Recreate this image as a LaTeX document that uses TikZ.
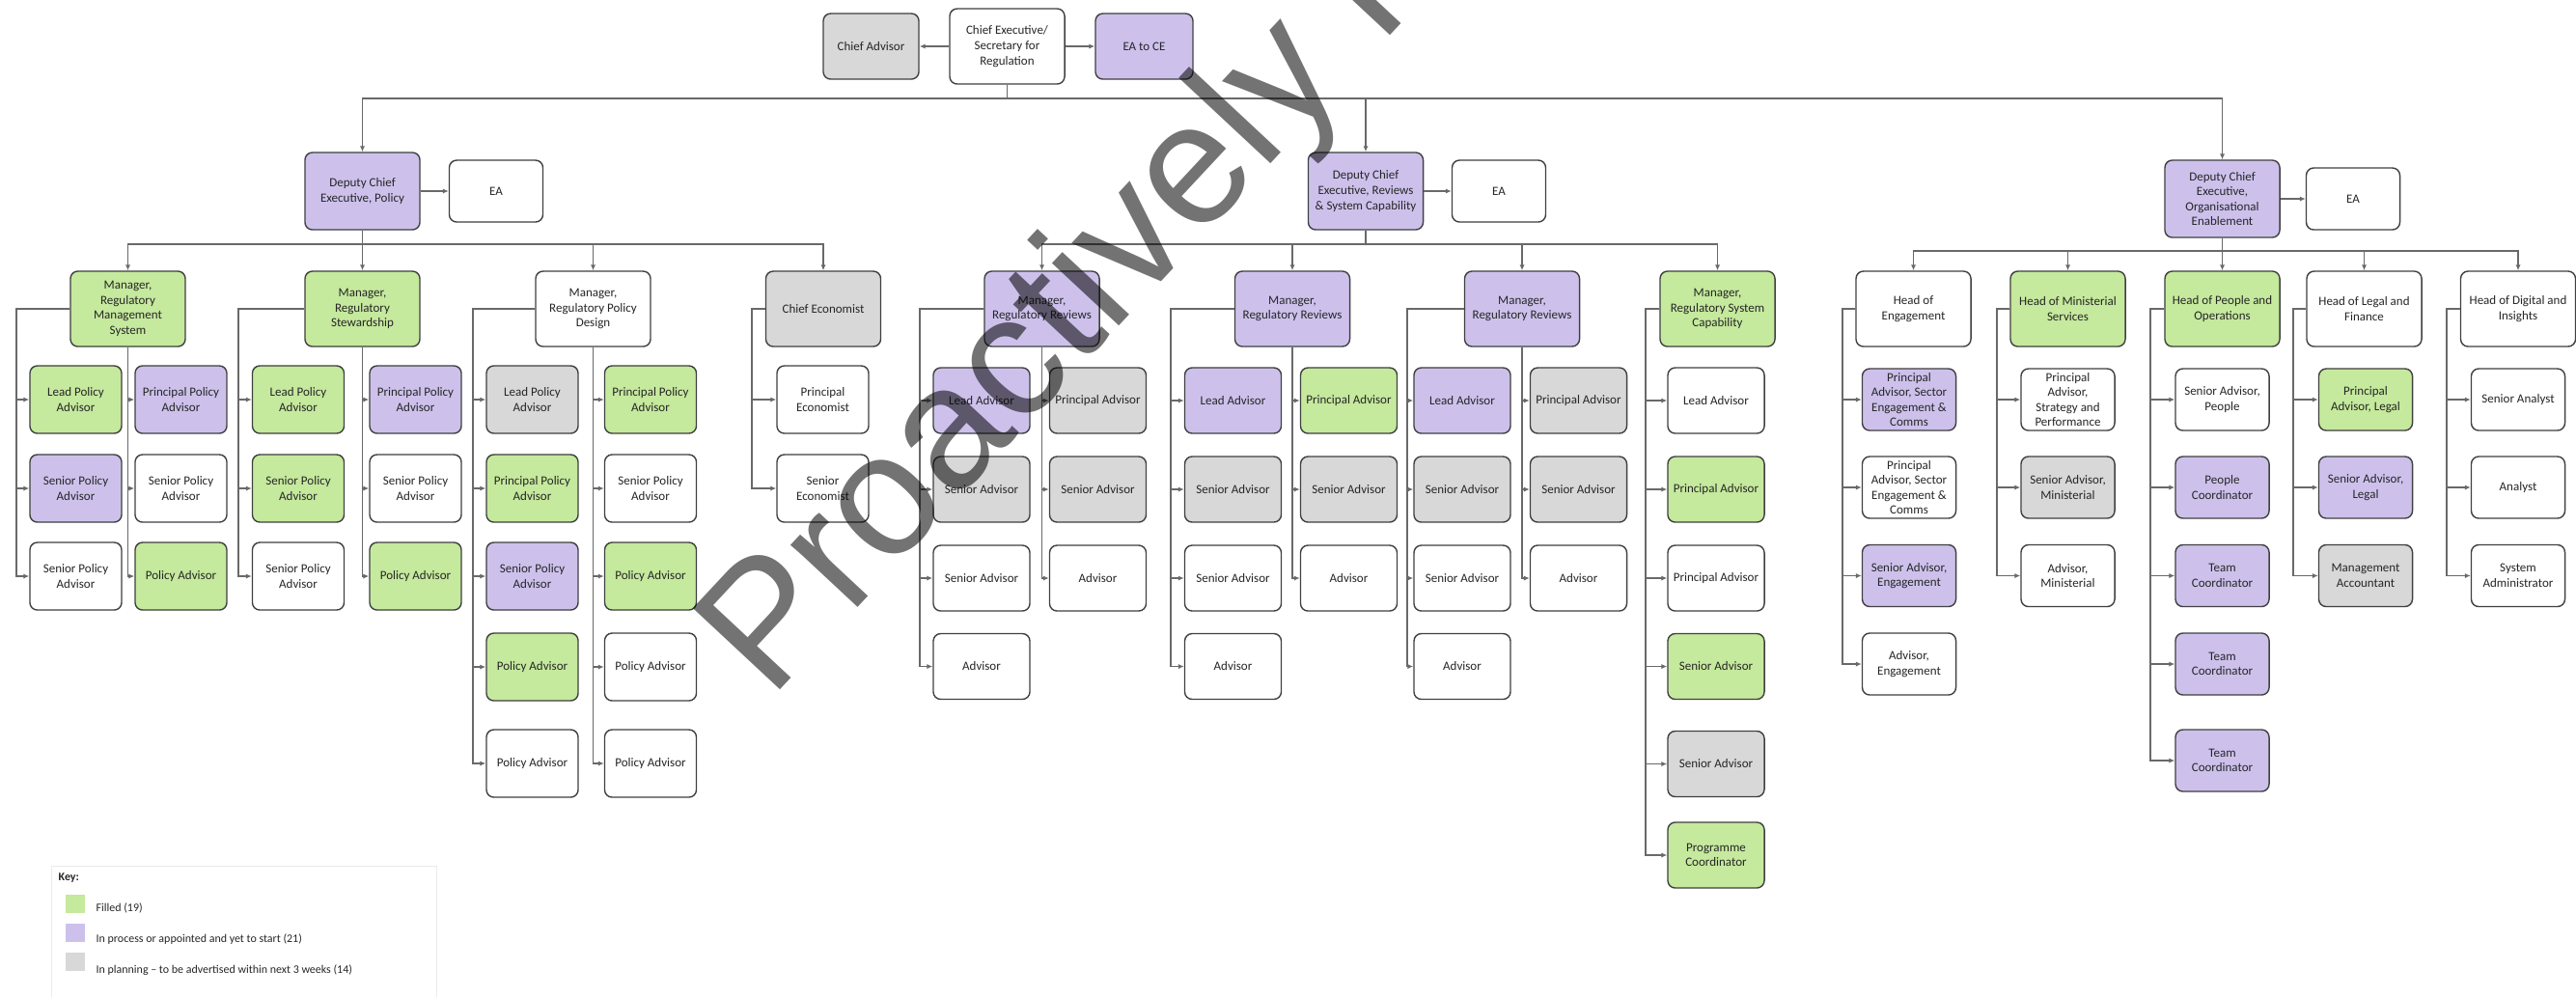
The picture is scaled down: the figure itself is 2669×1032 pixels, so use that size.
\documentclass[tikz,border=0pt]{standalone}
\usepackage{fontspec}
\setmainfont{Carlito}
\newfontfamily\wmfont{Liberation Sans}
\usetikzlibrary{arrows.meta, positioning, calc}

\definecolor{filledgreen}{RGB}{197,233,157}
\definecolor{inprocpurple}{RGB}{205,193,236}
\definecolor{plangray}{RGB}{216,216,216}
\definecolor{linegray}{RGB}{105,105,105}

\tikzset{
  posbox/.style={rectangle,rounded corners=2.2pt,draw=black!75,line width=0.4pt,
    align=center,inner sep=0.5pt,text=black!85,font=\fontsize{3.7}{4.45}\selectfont},
  fillpos/.style={posbox,fill=filledgreen},
  procpos/.style={posbox,fill=inprocpurple},
  planpos/.style={posbox,fill=plangray},
  openpos/.style={posbox,fill=white},
  dcesize/.style={minimum width=1.19cm,minimum height=0.80cm},
  mgrsize/.style={minimum width=1.19cm,minimum height=0.78cm},
  easize/.style={minimum width=0.97cm,minimum height=0.64cm},
  polsize/.style={minimum width=0.95cm,minimum height=0.70cm},
  revsize/.style={minimum width=1.00cm,minimum height=0.68cm},
  oesize/.style={minimum width=0.97cm,minimum height=0.64cm},
  arr/.style={-{Latex[length=1.7pt,width=1.5pt]},line width=0.35pt,draw=linegray},
  keytext/.style={anchor=west,inner sep=0pt,font=\fontsize{3.4}{4}\selectfont,text=black!85},
  swatch/.style={minimum width=0.20cm,minimum height=0.19cm,inner sep=0pt}
}

\begin{document}
\begin{tikzpicture}[x=0.01cm,y=-0.01cm]
  \useasboundingbox (0,0) rectangle (2669,1032);

  % Chief Executive
  \node[openpos,mgrsize] (ce) at (1043.5,48) {Chief Executive/\\Secretary for\\Regulation};
  \node[planpos,minimum width=0.99cm,minimum height=0.68cm] (cadv) at (902.5,48) {Chief Advisor};
  \node[procpos,minimum width=1.01cm,minimum height=0.68cm] (eace) at (1185.5,48) {EA to CE};

  % Deputy Chief Executives
  \node[procpos,dcesize] (dpol) at (375.5,198) {Deputy Chief\\Executive, Policy};
  \node[openpos,easize] (eapol) at (514,198) {EA};
  \node[procpos,dcesize] (drev) at (1415,198) {Deputy Chief\\Executive, Reviews\\\& System Capability};
  \node[openpos,easize] (earev) at (1553,198) {EA};
  \node[procpos,dcesize] (doe) at (2302.5,206) {Deputy Chief\\Executive,\\Organisational\\Enablement};
  \node[openpos,easize] (eaoe) at (2438,206) {EA};

  % Managers and heads
  \node[fillpos,mgrsize] (rms) at (132.5,320) {Manager,\\Regulatory\\Management\\System};
  \node[fillpos,mgrsize] (rs) at (375.5,320) {Manager,\\Regulatory\\Stewardship};
  \node[openpos,mgrsize] (rpd) at (614.5,320) {Manager,\\Regulatory Policy\\Design};
  \node[planpos,mgrsize] (cecon) at (853,320) {Chief Economist};
  \node[procpos,mgrsize] (rr1) at (1079.5,320) {Manager,\\Regulatory Reviews};
  \node[procpos,mgrsize] (rr2) at (1339,320) {Manager,\\Regulatory Reviews};
  \node[procpos,mgrsize] (rr3) at (1577,320) {Manager,\\Regulatory Reviews};
  \node[fillpos,mgrsize] (rsc) at (1779.5,320) {Manager,\\Regulatory System\\Capability};
  \node[openpos,mgrsize] (heng) at (1982.5,320) {Head of\\Engagement};
  \node[fillpos,mgrsize] (hmin) at (2142.5,320) {Head of Ministerial\\Services};
  \node[fillpos,mgrsize] (hppl) at (2302.5,320) {Head of People and\\Operations};
  \node[openpos,mgrsize] (hleg) at (2449.5,320) {Head of Legal and\\Finance};
  \node[openpos,mgrsize] (hdig) at (2609,320) {Head of Digital and\\Insights};

  % Policy teams
  \node[fillpos,polsize] (rmsA1) at (78.5,414) {Lead Policy\\Advisor};
  \node[procpos,polsize] (rmsA2) at (78.5,506) {Senior Policy\\Advisor};
  \node[openpos,polsize] (rmsA3) at (78.5,597) {Senior Policy\\Advisor};
  \node[procpos,polsize] (rmsB1) at (187.5,414) {Principal Policy\\Advisor};
  \node[openpos,polsize] (rmsB2) at (187.5,506) {Senior Policy\\Advisor};
  \node[fillpos,polsize] (rmsB3) at (187.5,597) {Policy Advisor};

  \node[fillpos,polsize] (rsA1) at (309,414) {Lead Policy\\Advisor};
  \node[fillpos,polsize] (rsA2) at (309,506) {Senior Policy\\Advisor};
  \node[openpos,polsize] (rsA3) at (309,597) {Senior Policy\\Advisor};
  \node[procpos,polsize] (rsB1) at (430.5,414) {Principal Policy\\Advisor};
  \node[openpos,polsize] (rsB2) at (430.5,506) {Senior Policy\\Advisor};
  \node[fillpos,polsize] (rsB3) at (430.5,597) {Policy Advisor};

  \node[planpos,polsize] (rpdA1) at (551.5,414) {Lead Policy\\Advisor};
  \node[fillpos,polsize] (rpdA2) at (551.5,506) {Principal Policy\\Advisor};
  \node[procpos,polsize] (rpdA3) at (551.5,597) {Senior Policy\\Advisor};
  \node[fillpos,polsize] (rpdA4) at (551.5,691) {Policy Advisor};
  \node[openpos,polsize] (rpdA5) at (551.5,791) {Policy Advisor};
  \node[fillpos,polsize] (rpdB1) at (674,414) {Principal Policy\\Advisor};
  \node[openpos,polsize] (rpdB2) at (674,506) {Senior Policy\\Advisor};
  \node[fillpos,polsize] (rpdB3) at (674,597) {Policy Advisor};
  \node[openpos,polsize] (rpdB4) at (674,691) {Policy Advisor};
  \node[openpos,polsize] (rpdB5) at (674,791) {Policy Advisor};

  \node[openpos,polsize] (ceconA1) at (852.5,414) {Principal\\Economist};
  \node[openpos,polsize] (ceconA2) at (852.5,506) {Senior\\Economist};

  % Reviews teams
  \node[procpos,revsize] (rr1A1) at (1017,415) {Lead Advisor};
  \node[planpos,revsize] (rr1A2) at (1017,507) {Senior Advisor};
  \node[openpos,revsize] (rr1A3) at (1017,599) {Senior Advisor};
  \node[openpos,revsize] (rr1A4) at (1017,690.5) {Advisor};
  \node[planpos,revsize] (rr1B1) at (1137.5,415) {Principal Advisor};
  \node[planpos,revsize] (rr1B2) at (1137.5,507) {Senior Advisor};
  \node[openpos,revsize] (rr1B3) at (1137.5,599) {Advisor};

  \node[procpos,revsize] (rr2A1) at (1277.5,415) {Lead Advisor};
  \node[planpos,revsize] (rr2A2) at (1277.5,507) {Senior Advisor};
  \node[openpos,revsize] (rr2A3) at (1277.5,599) {Senior Advisor};
  \node[openpos,revsize] (rr2A4) at (1277.5,690.5) {Advisor};
  \node[fillpos,revsize] (rr2B1) at (1397.5,415) {Principal Advisor};
  \node[planpos,revsize] (rr2B2) at (1397.5,507) {Senior Advisor};
  \node[openpos,revsize] (rr2B3) at (1397.5,599) {Advisor};

  \node[procpos,revsize] (rr3A1) at (1515,415) {Lead Advisor};
  \node[planpos,revsize] (rr3A2) at (1515,507) {Senior Advisor};
  \node[openpos,revsize] (rr3A3) at (1515,599) {Senior Advisor};
  \node[openpos,revsize] (rr3A4) at (1515,690.5) {Advisor};
  \node[planpos,revsize] (rr3B1) at (1635.5,415) {Principal Advisor};
  \node[planpos,revsize] (rr3B2) at (1635.5,507) {Senior Advisor};
  \node[openpos,revsize] (rr3B3) at (1635.5,599) {Advisor};

  \node[openpos,revsize] (rscA1) at (1778,415) {Lead Advisor};
  \node[fillpos,revsize] (rscA2) at (1778,507) {Principal Advisor};
  \node[openpos,revsize] (rscA3) at (1778,599) {Principal Advisor};
  \node[fillpos,revsize] (rscA4) at (1778,690.5) {Senior Advisor};
  \node[planpos,revsize] (rscA5) at (1778,791.5) {Senior Advisor};
  \node[fillpos,revsize] (rscA6) at (1778,886) {Programme\\Coordinator};

  % Organisational Enablement teams
  \node[procpos,oesize] (hengA1) at (1978,414) {Principal\\Advisor, Sector\\Engagement \&\\Comms};
  \node[openpos,oesize] (hengA2) at (1978,505) {Principal\\Advisor, Sector\\Engagement \&\\Comms};
  \node[procpos,oesize] (hengA3) at (1978,596.5) {Senior Advisor,\\Engagement};
  \node[openpos,oesize] (hengA4) at (1978,688) {Advisor,\\Engagement};

  \node[openpos,oesize] (hminA1) at (2142.5,414) {Principal\\Advisor,\\Strategy and\\Performance};
  \node[planpos,oesize] (hminA2) at (2142.5,505) {Senior Advisor,\\Ministerial};
  \node[openpos,oesize] (hminA3) at (2142.5,596.5) {Advisor,\\Ministerial};

  \node[openpos,oesize] (hpplA1) at (2302.5,414) {Senior Advisor,\\People};
  \node[procpos,oesize] (hpplA2) at (2302.5,505) {People\\Coordinator};
  \node[procpos,oesize] (hpplA3) at (2302.5,596.5) {Team\\Coordinator};
  \node[procpos,oesize] (hpplA4) at (2302.5,688) {Team\\Coordinator};
  \node[procpos,oesize] (hpplA5) at (2302.5,788) {Team\\Coordinator};

  \node[fillpos,oesize] (hlegA1) at (2451,414) {Principal\\Advisor, Legal};
  \node[procpos,oesize] (hlegA2) at (2451,505) {Senior Advisor,\\Legal};
  \node[planpos,oesize] (hlegA3) at (2451,596.5) {Management\\Accountant};

  \node[openpos,oesize] (hdigA1) at (2609,414) {Senior Analyst};
  \node[openpos,oesize] (hdigA2) at (2609,505) {Analyst};
  \node[openpos,oesize] (hdigA3) at (2609,596.5) {System\\Administrator};

  % buses and brackets
  \coordinate (b1) at (1043.5,102);
  \coordinate (b2) at (375.5,253);
  \coordinate (b3) at (1415,253);
  \coordinate (b4) at (2302.5,260);
  \foreach \m/\k in {rms/17,rs/247,rpd/490,cecon/779,rr1/953,rr2/1213,rr3/1458,
      rsc/1705,heng/1909,hmin/2069,hppl/2228,hleg/2376,hdig/2535}
    \coordinate (\m k) at (\k,320);

  \draw[arr] (ce) -- (cadv);
  \draw[arr] (ce) -- (eace);
  \foreach \d in {dpol,drev,doe}
    \draw[arr] (ce.south) -- (b1) -| (\d.north);

  \draw[arr] (dpol) -- (eapol);
  \draw[arr] (drev) -- (earev);
  \draw[arr] (doe) -- (eaoe);

  \draw[arr] (dpol.south) -- (rs.north);
  \foreach \m in {rms,rpd,cecon}
    \draw[arr] (dpol.south) -- (b2) -| (\m.north);
  \foreach \m in {rr1,rr2,rr3,rsc}
    \draw[arr] (drev.south) -- (b3) -| (\m.north);
  \foreach \m in {heng,hmin,hppl,hleg,hdig}
    \draw[arr] (doe.south) -- (b4) -| (\m.north);

  % left-hand columns
  \foreach \m/\n in {rms/3,rs/3,rpd/5,cecon/2,rr1/4,rr2/4,rr3/4,rsc/6,
      heng/4,hmin/3,hppl/5,hleg/3,hdig/3}
    \foreach \i in {1,...,\n}
      \draw[arr] (\m.west) -- (\m k) |- (\m A\i.west);

  % right-hand columns
  \foreach \m/\n in {rms/3,rs/3,rpd/5,rr1/3,rr2/3,rr3/3}
    \foreach \i in {1,...,\n}
      \draw[arr] (\m.south) |- (\m B\i.west);

  % Key
  \node[draw=black!8,line width=0.3pt,minimum width=3.99cm,minimum height=1.45cm,
    anchor=north west,inner sep=0pt] (keybox) at (53,897) {};
  \node[anchor=west,inner sep=0pt,font=\bfseries\fontsize{3.4}{4}\selectfont,text=black!85]
    (keyhead) at (60,910) {Key:};
  \node[swatch,fill=filledgreen] (swfill) at (78,936.5) {};
  \node[swatch,fill=inprocpurple] (swproc) at (78,966.5) {};
  \node[swatch,fill=plangray] (swplan) at (78,996.5) {};
  \node[keytext] (kfill) at (99,941) {Filled (19)};
  \node[keytext] (kproc) at (99,973) {In process or appointed and yet to start (21)};
  \node[keytext] (kplan) at (99,1005) {In planning -- to be advertised within next 3 weeks (14)};

  % watermark
  \node[rotate=47,anchor=base west,inner sep=0pt,text=black,text opacity=0.55,
    font={\wmfont\fontsize{51}{51}\selectfont}] (wmark) at (798,726) {Proactively Released};

\end{tikzpicture}
\end{document}
